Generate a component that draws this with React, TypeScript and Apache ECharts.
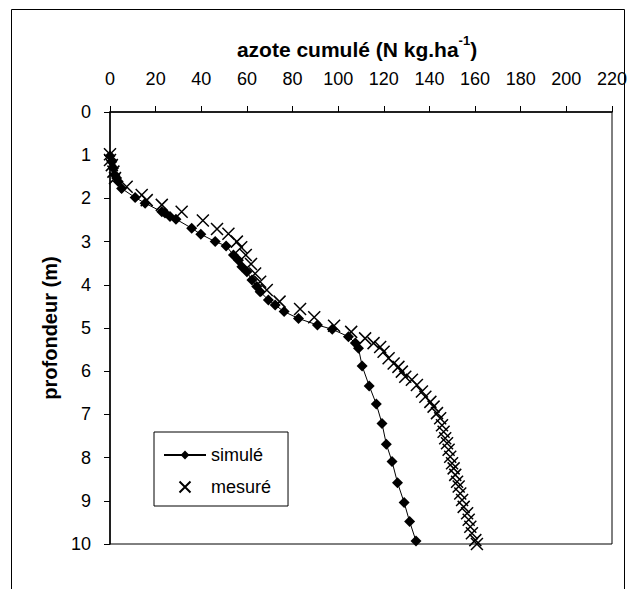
import React, { useEffect, useRef } from "react";
import * as echarts from "echarts";

const xTicks = [0, 220, 20];
const depthTicks = [0, 10, 1];

// simulé : [azote cumulé (N kg/ha), profondeur (m)]
const simuleN = [0, 0.8, 1.5, 2.2, 2.9, 3.6, 5.1, 11.0, 15.4, 22.7, 24.1, 26.3, 28.9, 35.8, 39.8, 46.1, 50.9, 54.1, 56.3, 57.8, 60.0, 62.2, 64.3, 65.8, 69.4, 72.4, 76.3, 82.6, 90.9, 97.4, 104.5, 107.5, 108.9, 110.5, 113.6, 116.7, 119.2, 121.1, 123.6, 126.0, 128.9, 131.3, 134.1];
const simuleZ = [1.02, 1.15, 1.30, 1.46, 1.53, 1.61, 1.77, 1.98, 2.11, 2.31, 2.34, 2.42, 2.48, 2.69, 2.83, 3.00, 3.10, 3.31, 3.43, 3.58, 3.70, 3.89, 4.04, 4.16, 4.35, 4.47, 4.62, 4.78, 4.93, 5.03, 5.20, 5.35, 5.47, 5.88, 6.34, 6.76, 7.21, 7.69, 8.09, 8.58, 9.04, 9.48, 9.93];

// mesuré
const mesureN = [0, 0, 0.8, 1.5, 2.2, 7.3, 13.9, 16.1, 22.7, 31.4, 40.7, 46.9, 51.9, 55.6, 57.5, 59.5, 61.8, 63.6, 65.8, 68.7, 74.3, 83.3, 89.5, 98.2, 105.7, 111.8, 115.5, 118.4, 119.9, 122.1, 124.3, 126.4, 127.9, 129.4, 132.3, 134.5, 136.7, 138.2, 140.4, 141.8, 143.3, 144.7, 145.5, 146.2, 146.9, 147.7, 148.4, 149.1, 149.9, 150.6, 151.3, 152.1, 152.8, 153.5, 154.3, 155.0, 156.5, 157.2, 157.9, 158.6, 160.1, 160.8];
const mesureZ = [0.98, 1.11, 1.23, 1.38, 1.53, 1.73, 1.92, 2.04, 2.15, 2.31, 2.51, 2.71, 2.82, 3.00, 3.13, 3.31, 3.52, 3.74, 3.93, 4.12, 4.39, 4.56, 4.75, 4.95, 5.09, 5.24, 5.35, 5.44, 5.55, 5.70, 5.82, 5.90, 6.01, 6.13, 6.20, 6.32, 6.47, 6.59, 6.71, 6.82, 6.97, 7.09, 7.25, 7.40, 7.55, 7.67, 7.82, 7.98, 8.13, 8.25, 8.40, 8.56, 8.67, 8.83, 8.98, 9.14, 9.29, 9.44, 9.60, 9.75, 9.91, 10.0];

const FONT = "'Liberation Sans', Arial, sans-serif";

export default function App() {
  const ref = useRef<HTMLDivElement>(null);
  useEffect(() => {
    if (!ref.current) return;
    const chart = echarts.init(ref.current, null, { renderer: "svg" });
    const sim = simuleN.map((v, i) => [v, simuleZ[i]]);
    const mes = mesureN.map((v, i) => [v, mesureZ[i]]);
    chart.setOption({
      animation: false,
      backgroundColor: "#fff",
      textStyle: { fontFamily: FONT, color: "#000" },
      grid: {
        left: 110,
        top: 112,
        width: 502,
        height: 432,
        show: true,
        borderColor: "#000",
        borderWidth: 1,
        backgroundColor: "transparent",
      },
      graphic: [
        {
          type: "rect",
          shape: { x: 11.5, y: 9.5, width: 613, height: 600 },
          style: { fill: "none", stroke: "#000", lineWidth: 1 },
          silent: true,
        },
        {
          type: "text",
          x: 357,
          y: 47,
          style: {
            text: "{a|azote cumulé (N kg.ha}{s|-1}{a|)}",
            align: "center",
            verticalAlign: "middle",
            rich: {
              a: { fontSize: 21, fontWeight: "bold", fontFamily: FONT, lineHeight: 26, verticalAlign: "bottom", fill: "#000" },
              s: { fontSize: 13, fontWeight: "bold", fontFamily: FONT, lineHeight: 26, verticalAlign: "top", fill: "#000" },
            },
          },
        },
      ],
      legend: {
        left: 154,
        top: 432,
        orient: "vertical",
        padding: [14, 17, 10, 9],
        itemWidth: 42,
        itemHeight: 11,
        itemGap: 14,
        itemTextGap: 7,
        borderColor: "#000",
        borderWidth: 1,
        backgroundColor: "#fff",
        textStyle: { fontSize: 18, fontFamily: FONT, color: "#000" },
        data: ["simulé", "mesuré"],
      },
      xAxis: {
        type: "value",
        position: "top",
        min: xTicks[0],
        max: xTicks[1],
        interval: xTicks[2],
        splitLine: { show: false },
        axisLine: { show: true, lineStyle: { color: "#000", width: 1.5 } },
        axisTick: { show: true, length: 6, lineStyle: { color: "#000" } },
        axisLabel: { fontSize: 18, fontFamily: FONT, color: "#000", margin: 24 },
      },
      yAxis: {
        type: "value",
        inverse: true,
        min: depthTicks[0],
        max: depthTicks[1],
        interval: depthTicks[2],
        name: "profondeur (m)",
        nameLocation: "middle",
        nameGap: 42,
        nameRotate: 90,
        nameTextStyle: { fontSize: 20, fontWeight: "bold", fontFamily: FONT, color: "#000" },
        splitLine: { show: false },
        axisLine: { show: true, lineStyle: { color: "#000", width: 1.5 } },
        axisTick: { show: true, length: 6, lineStyle: { color: "#000" } },
        axisLabel: { fontSize: 18, fontFamily: FONT, color: "#000", margin: 19 },
      },
      series: [
        {
          name: "simulé",
          type: "line",
          data: sim,
          symbol: "diamond",
          symbolSize: 11,
          showAllSymbol: true,
          lineStyle: { color: "#000", width: 1 },
          itemStyle: { color: "#000" },
          z: 3,
        },
        {
          name: "mesuré",
          type: "scatter",
          data: mes,
          symbol: "path://M0,0L10,10M10,0L0,10",
          symbolSize: 12,
          itemStyle: { color: "none", borderColor: "#000", borderWidth: 1.5, opacity: 1 },
          z: 4,
        },
      ],
    });
    return () => chart.dispose();
  }, []);
  return (
    <div
      ref={ref}
      style={{ position: "fixed", left: 0, top: 0, width: 633, height: 589 }}
    />
  );
}
